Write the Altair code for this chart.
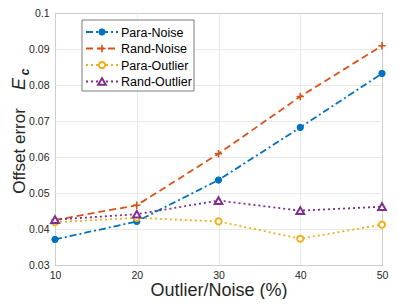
import altair as alt
import pandas as pd

# ---- data ----
x_vals = [10, 20, 30, 40, 50]
para_noise = [0.0371, 0.0421, 0.0536, 0.0682, 0.0832]
rand_noise = [0.0425, 0.0466, 0.0609, 0.0768, 0.0909]
para_outlier = [0.0419, 0.0431, 0.0421, 0.0373, 0.0412]
rand_outlier = [0.0426, 0.0441, 0.0479, 0.0451, 0.0462]

series_names = ["Para-Noise", "Rand-Noise", "Para-Outlier", "Rand-Outlier"]
series_values = [para_noise, rand_noise, para_outlier, rand_outlier]
y_ticks = [0.03, 0.04, 0.05, 0.06, 0.07, 0.08, 0.09, 0.1]

x_title = "Outlier/Noise (%)"
y_title_main = "Offset error"
y_title_sym = "E"
y_title_sub = "c"

# ---- styles ----
FONT = "Liberation Sans"
colors = ["#0072BD", "#D95319", "#EDB120", "#7E2F8E"]
dashes = [[7, 3, 2, 3], [7, 4], [2, 3], [2, 3]]
marker_styles = [
    dict(shape="circle", size=40, filled=True, strokeWidth=1),
    dict(shape="M-1,0H1M0,-1V1", size=55, filled=False, strokeWidth=1.6),
    dict(shape="circle", size=38, filled=True, fill="white", strokeWidth=2),
    dict(shape="triangle-up", size=60, filled=True, fill="white", strokeWidth=2),
]

W, H = 327, 252

x_enc = alt.X(
    "x:Q",
    scale=alt.Scale(domain=[10, 50], nice=False),
    axis=alt.Axis(values=x_vals, title=x_title, titleY=30, titleBaseline="alphabetic",
                  labelPadding=5, format="d", labelFlush=False),
)
y_enc = alt.Y(
    "y:Q",
    scale=alt.Scale(domain=[0.03, 0.1], nice=False, zero=False),
    axis=alt.Axis(values=y_ticks, format=".2~f", title=None, labelPadding=6, labelFlush=False),
)

layers = []
for name, vals, col, dash in zip(series_names, series_values, colors, dashes):
    df = pd.DataFrame({"x": x_vals, "y": vals, "series": name})
    layers.append(
        alt.Chart(df).mark_line(color=col, strokeWidth=1.8, strokeDash=dash).encode(x=x_enc, y=y_enc)
    )
for name, vals, col, ms in zip(series_names, series_values, colors, marker_styles):
    df = pd.DataFrame({"x": x_vals, "y": vals, "series": name})
    kw = dict(ms)
    if "fill" not in kw and kw.get("filled"):
        kw["fill"] = col
    layers.append(
        alt.Chart(df).mark_point(stroke=col, opacity=1, **kw).encode(x=x_enc, y=y_enc)
    )

# ---- legend (drawn inside plot area) ----
one = pd.DataFrame({"a": [0]})
layers.append(
    alt.Chart(one).mark_rect(fill="white", stroke="#5a5a5a", strokeWidth=0.8).encode(
        x=alt.value(27), x2=alt.value(139), y=alt.value(7), y2=alt.value(78)
    )
)
row_y = [19, 35.5, 52, 68.5]
for name, col, dash, ms, ry in zip(series_names, colors, dashes, marker_styles, row_y):
    layers.append(
        alt.Chart(one).mark_rule(color=col, strokeWidth=1.8, strokeDash=dash).encode(
            x=alt.value(31), x2=alt.value(63), y=alt.value(ry)
        )
    )
    kw = dict(ms)
    if "fill" not in kw and kw.get("filled"):
        kw["fill"] = col
    layers.append(
        alt.Chart(one).mark_point(stroke=col, opacity=1, **kw).encode(
            x=alt.value(47), y=alt.value(ry)
        )
    )
    layers.append(
        alt.Chart(one).mark_text(align="left", baseline="middle", font=FONT, fontSize=12.5,
                                 color="#000000").encode(
            x=alt.value(66), y=alt.value(ry + 0.5), text=alt.value(name)
        )
    )

# ---- y title with italic symbol and subscript ----
layers.append(
    alt.Chart(one).mark_text(angle=270, align="center", baseline="alphabetic", font=FONT,
                             fontSize=17, color="#262626").encode(
        x=alt.value(-30), y=alt.value(138), text=alt.value(y_title_main)
    )
)
layers.append(
    alt.Chart(one).mark_text(angle=270, align="center", baseline="alphabetic", font=FONT,
                             fontSize=18, fontStyle="italic", color="#262626").encode(
        x=alt.value(-30), y=alt.value(71), text=alt.value(y_title_sym)
    )
)
layers.append(
    alt.Chart(one).mark_text(angle=270, align="center", baseline="alphabetic", font=FONT,
                             fontSize=12, fontStyle="italic", fontWeight="bold",
                             color="#262626").encode(
        x=alt.value(-26), y=alt.value(59), text=alt.value(y_title_sub)
    )
)

chart = (
    alt.layer(*layers)
    .properties(
        width=W,
        height=H,
        autosize=alt.AutoSizeParams(type="none"),
        padding={"left": 47, "top": 5, "right": 7, "bottom": 34},
    )
    .configure_view(stroke="#7a7a7a", strokeWidth=1)
    .configure_axis(
        labelFont=FONT,
        labelFontSize=10.5,
        labelColor="#262626",
        titleFont=FONT,
        titleFontSize=18,
        titleFontWeight="normal",
        titleColor="#262626",
        gridColor="#e3e3e3",
        gridWidth=0.8,
        domain=False,
        ticks=False,
    )
)

chart.save("out.html", embed_options={"renderer": "svg", "actions": False})
